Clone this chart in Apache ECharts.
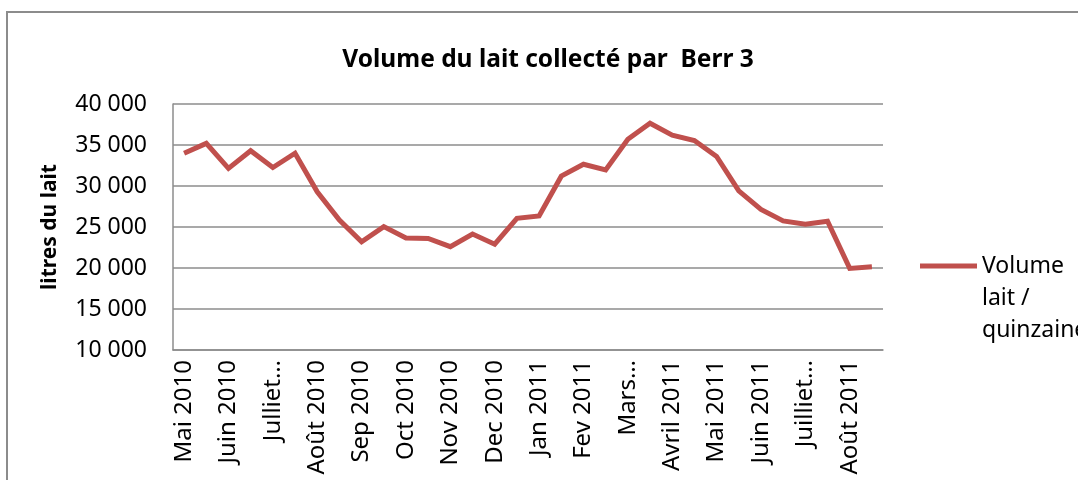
<!DOCTYPE html>
<html>
<head>
<meta charset="utf-8">
<script src="https://cdn.jsdelivr.net/npm/echarts@6/dist/echarts.min.js"></script>
<style>
  html, body { margin: 0; padding: 0; background: #fff; }
  #main { width: 1078px; height: 480px; }
</style>
</head>
<body>
<div id="main"></div>
<script>
var chartDom = document.getElementById('main');
var myChart = echarts.init(chartDom);
var option;

// une étiquette par mois, deux quinzaines par mois
var monthLabels = [
    'Mai 2010', 'Juin 2010', 'Julliet\u2026', 'Août 2010',
    'Sep 2010', 'Oct 2010', 'Nov 2010', 'Dec 2010',
    'Jan 2011', 'Fev 2011', 'Mars\u2026', 'Avril 2011',
    'Mai 2011', 'Juin 2011', 'Juilliet\u2026', 'Août 2011'
];
// volume de lait collecté par quinzaine (litres)
var volumeLait = [
    34000, 35200, 32150, 34300, 32250, 34000, 29300, 25850,
    23200, 25050, 23650, 23600, 22600, 24150, 22900, 26050,
    26350, 31200, 32650, 31950, 35700, 37650, 36200, 35550,
    33600, 29400, 27150, 25750, 25350, 25700, 19950, 20150
];
var yTicks = { min: 10000, max: 40000, interval: 5000 };

var quinzaines = [];
monthLabels.forEach(function (m) {
    quinzaines.push(m);
    quinzaines.push(m);
});

var font = 'Noto Sans';
var red = '#C0504D';

option = {
    backgroundColor: '#fff',
    animation: false,
    graphic: [
        {
            type: 'rect',
            shape: { x: 7, y: 12, width: 1200, height: 600 },
            style: { fill: 'none', stroke: '#8c8c8c', lineWidth: 2 },
            silent: true
        }
    ],
    title: {
        text: 'Volume du lait collecté par  Berr 3',
        left: 548,
        top: 48,
        padding: 0,
        textAlign: 'center',
        textStyle: {
            fontFamily: font,
            fontWeight: 'bold',
            fontSize: 24.5,
            color: '#000'
        }
    },
    legend: {
        left: 920,
        top: 250,
        padding: 0,
        itemWidth: 57,
        itemHeight: 96,
        // trait aligné sur la première ligne du libellé
        icon: 'path://M0,0 L1,0 Z M0,13.5 L57,13.5 L57,18.5 L0,18.5 Z M0,96 L1,96 Z',
        itemStyle: { color: red, borderWidth: 0 },
        formatter: function () {
            return 'Volume\nlait /\nquinzaine';
        },
        textStyle: {
            fontFamily: font,
            fontSize: 23,
            lineHeight: 32,
            color: '#000'
        }
    },
    grid: {
        left: 173,
        right: 195,
        top: 104,
        bottom: 130
    },
    xAxis: {
        type: 'category',
        data: quinzaines,
        boundaryGap: true,
        axisLine: { lineStyle: { color: '#8c8c8c', width: 1.5 } },
        axisTick: { show: false },
        axisLabel: {
            interval: 1,
            rotate: 90,
            margin: 10,
            fontFamily: font,
            fontSize: 24,
            color: '#000'
        }
    },
    yAxis: {
        type: 'value',
        min: yTicks.min,
        max: yTicks.max,
        interval: yTicks.interval,
        name: 'litres du lait',
        nameLocation: 'middle',
        nameGap: 112,
        nameTextStyle: {
            fontFamily: font,
            fontWeight: 'bold',
            fontSize: 21,
            color: '#000'
        },
        axisLine: { show: true, lineStyle: { color: '#8c8c8c', width: 1.5 } },
        axisTick: { show: false },
        splitLine: { lineStyle: { color: '#8c8c8c', width: 1.5 } },
        axisLabel: {
            margin: 26,
            fontFamily: font,
            fontSize: 23,
            color: '#000',
            formatter: function (v) {
                return String(v).replace(/\B(?=(\d{3})+(?!\d))/g, ' ');
            }
        }
    },
    series: [
        {
            name: 'Volume lait / quinzaine',
            type: 'line',
            data: volumeLait,
            symbol: 'none',
            lineStyle: { color: red, width: 5, join: 'miter' },
            itemStyle: { color: red }
        }
    ]
};

option && myChart.setOption(option);
</script>
</body>
</html>
